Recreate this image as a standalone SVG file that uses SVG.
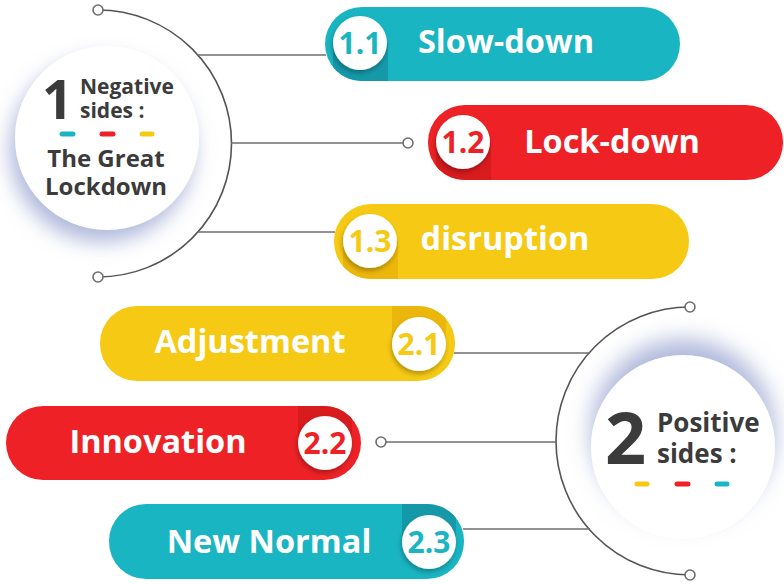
<svg xmlns="http://www.w3.org/2000/svg" width="784" height="584" viewBox="0 0 784 584">
<style>
text{font-family:"Open Sans","Liberation Sans",sans-serif;font-weight:700}
.dark{fill:#3b3b3b}
.lbl{fill:#fff;font-size:32.5px;text-anchor:middle}
.num{font-size:30px;text-anchor:middle}
.ln{stroke:#6e6e6e;stroke-width:1.6;fill:none}
.arc{stroke:#555;stroke-width:1.6;fill:none}
.dot{fill:#fff;stroke:#6e6e6e;stroke-width:1.6}
.dash{stroke-width:5;stroke-linecap:round}
.teal{fill:#1ab5c2}.red{fill:#ee2226}.yel{fill:#f6ca14}
.tealD{fill:#1599a9}.redD{fill:#d81b1d}.yelD{fill:#ebb70c}
.nc{fill:#fff;filter:url(#ns)}
</style>
<defs>
<filter id="s1" x="-40%" y="-40%" width="180%" height="180%"><feDropShadow dx="-5" dy="12" stdDeviation="10" flood-color="#8f9bcc" flood-opacity="0.7"/></filter>
<filter id="s2" x="-40%" y="-40%" width="180%" height="180%"><feDropShadow dx="0" dy="-16" stdDeviation="11" flood-color="#8f9bcc" flood-opacity="0.7"/></filter>
<filter id="ns" x="-40%" y="-40%" width="180%" height="180%"><feDropShadow dx="-1" dy="3" stdDeviation="2.5" flood-color="#000" flood-opacity="0.28"/></filter>
<clipPath id="c11"><rect x="325" y="7" width="355" height="74" rx="37"/></clipPath>
<clipPath id="c12"><rect x="428" y="105" width="355" height="75" rx="37"/></clipPath>
<clipPath id="c13"><rect x="334" y="204" width="355" height="75" rx="37"/></clipPath>
<clipPath id="c21"><rect x="100" y="306" width="355" height="75" rx="37"/></clipPath>
<clipPath id="c22"><rect x="6" y="406" width="355" height="74" rx="37"/></clipPath>
<clipPath id="c23"><rect x="109" y="504" width="355" height="75" rx="37"/></clipPath>
</defs>
<rect width="784" height="584" fill="#fff"/>

<g id="connectors">
<path class="arc" d="M98 10 A133.5 133.5 0 0 1 98 277"/>
<path class="arc" d="M690 307 A134 134 0 0 0 690 575"/>
<line class="ln" x1="197" y1="55" x2="326" y2="55"/>
<line class="ln" x1="231" y1="143" x2="403" y2="143"/>
<line class="ln" x1="197" y1="232" x2="335" y2="232"/>
<line class="ln" x1="454" y1="353" x2="590" y2="353"/>
<line class="ln" x1="386" y1="442" x2="557" y2="442"/>
<line class="ln" x1="463" y1="529" x2="590" y2="529"/>
<circle class="dot" cx="98" cy="10" r="5"/>
<circle class="dot" cx="98" cy="277" r="5"/>
<circle class="dot" cx="690" cy="307" r="5"/>
<circle class="dot" cx="690" cy="575" r="5"/>
<circle class="dot" cx="408" cy="143" r="5"/>
<circle class="dot" cx="381" cy="442" r="5"/>
</g>

<g id="hub1">
<circle cx="107" cy="138" r="92" fill="#fff" filter="url(#s1)"/>
<text class="dark" x="42" y="119" font-size="54">1</text>
<text class="dark" x="80" y="94" font-size="21">Negative</text>
<text class="dark" x="80" y="118" font-size="21">sides :</text>
<line class="dash" x1="62" y1="134" x2="73" y2="134" stroke="#1ab5c2"/>
<line class="dash" x1="102" y1="134" x2="113" y2="134" stroke="#ee2226"/>
<line class="dash" x1="142" y1="134" x2="152" y2="134" stroke="#f6ca14"/>
<text class="dark" x="106" y="167" font-size="24" text-anchor="middle">The Great</text>
<text class="dark" x="106" y="195" font-size="24" text-anchor="middle">Lockdown</text>
</g>

<g id="hub2">
<circle cx="683" cy="447" r="92" fill="#fff" filter="url(#s2)"/>
<text class="dark" x="605" y="464" font-size="72">2</text>
<text class="dark" x="657" y="432" font-size="26">Positive</text>
<text class="dark" x="657" y="463" font-size="26">sides :</text>
<line class="dash" x1="637" y1="484" x2="647" y2="484" stroke="#f6ca14"/>
<line class="dash" x1="677" y1="484" x2="688" y2="484" stroke="#ee2226"/>
<line class="dash" x1="717" y1="484" x2="727" y2="484" stroke="#1ab5c2"/>
</g>

<g id="n11">
<rect class="teal" x="325" y="7" width="355" height="74" rx="37"/>
<rect class="tealD" x="333" y="43" width="55" height="40" clip-path="url(#c11)"/>
<circle class="nc" cx="360" cy="43" r="27"/>
<text class="num" x="360" y="54" fill="#1ab5c2">1.1</text>
<text class="lbl" x="506" y="53">Slow-down</text>
</g>

<g id="n12">
<rect class="red" x="428" y="105" width="355" height="75" rx="37"/>
<rect class="redD" x="436" y="142" width="55" height="40" clip-path="url(#c12)"/>
<circle class="nc" cx="463" cy="142" r="27"/>
<text class="num" x="463" y="153" fill="#ee2226">1.2</text>
<text class="lbl" x="612" y="153">Lock-down</text>
</g>

<g id="n13">
<rect class="yel" x="334" y="204" width="355" height="75" rx="37"/>
<rect class="yelD" x="343" y="241" width="55" height="40" clip-path="url(#c13)"/>
<circle class="nc" cx="370" cy="241" r="27"/>
<text class="num" x="370" y="252" fill="#f6ca14">1.3</text>
<text class="lbl" x="505" y="250">disruption</text>
</g>

<g id="n21">
<rect class="yel" x="100" y="306" width="355" height="75" rx="37"/>
<rect class="yelD" x="392" y="304" width="54" height="40" clip-path="url(#c21)"/>
<circle class="nc" cx="419" cy="344" r="27"/>
<text class="num" x="419" y="355" fill="#f6ca14">2.1</text>
<text class="lbl" x="250" y="353">Adjustment</text>
</g>

<g id="n22">
<rect class="red" x="6" y="406" width="355" height="74" rx="37"/>
<rect class="redD" x="298" y="404" width="54" height="39" clip-path="url(#c22)"/>
<circle class="nc" cx="325" cy="443" r="27"/>
<text class="num" x="325" y="454" fill="#ee2226">2.2</text>
<text class="lbl" x="158" y="453">Innovation</text>
</g>

<g id="n23">
<rect class="teal" x="109" y="504" width="355" height="75" rx="37"/>
<rect class="tealD" x="402" y="502" width="54" height="40" clip-path="url(#c23)"/>
<circle class="nc" cx="429" cy="542" r="27"/>
<text class="num" x="429" y="553" fill="#1ab5c2">2.3</text>
<text class="lbl" x="269" y="553">New Normal</text>
</g>
</svg>
